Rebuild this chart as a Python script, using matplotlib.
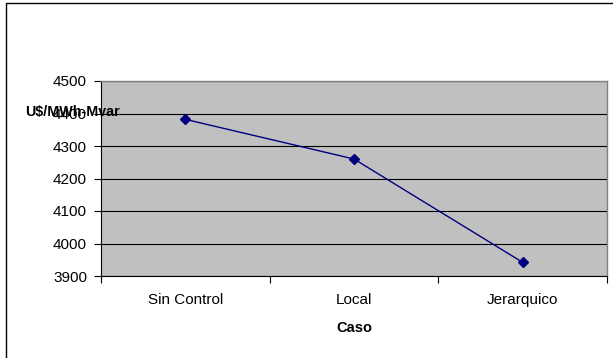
import matplotlib
matplotlib.use("Agg")
import matplotlib.pyplot as plt
from matplotlib.patches import Rectangle

categories = ["Sin Control", "Local", "Jerarquico"]
values = [4382, 4260, 3942]
yticks = [3900, 4000, 4100, 4200, 4300, 4400, 4500]

plt.rcParams['font.family'] = ['Liberation Sans', 'DejaVu Sans']

W, H = 613, 358
fig = plt.figure(figsize=(W/100, H/100), dpi=100)
fig.patch.set_facecolor('white')

# outer chart border (left/top visible)
fig.patches.append(Rectangle((6/W, -0.1), 1.2, (H-3)/H + 0.1, transform=fig.transFigure,
                             fill=False, edgecolor='black', linewidth=1.0))

ax = fig.add_axes([101/W, 1-276/H, (607-101)/W, (276-81)/H])
ax.set_facecolor('#c0c0c0')
x = list(range(len(categories)))
ax.plot(x, values, color='#000080', linewidth=1.0, marker='D', markersize=5,
        markerfacecolor='#000080', markeredgecolor='#000080', zorder=3)

ax.set_ylim(3900, 4500)
ax.set_yticks(yticks)
ax.set_yticklabels([str(v) for v in yticks], fontsize=11)
ax.yaxis.grid(True, color='black', linewidth=0.8)
ax.set_axisbelow(True)

ax.set_xlim(-0.5, len(categories) - 0.5)
ax.set_xticks([i - 0.5 for i in range(len(categories) + 1)])
ax.set_xticklabels([])
ax.set_xticks(x, minor=True)
ax.set_xticklabels(categories, minor=True, fontsize=11)
ax.tick_params(axis='x', which='minor', length=0, pad=12)
ax.tick_params(axis='x', which='major', length=5, width=0.8, direction='out')
ax.tick_params(axis='y', length=5, width=0.8, direction='out', pad=5)

for s in ['top', 'right']:
    ax.spines[s].set_color('#808080')
    ax.spines[s].set_linewidth(1.0)
for s in ['left', 'bottom']:
    ax.spines[s].set_color('black')
    ax.spines[s].set_linewidth(0.8)

ax.set_xlabel("Caso", fontsize=10.5, fontweight='bold', labelpad=10)
fig.text(72/W, 1-112/H, "U$/MWh-Mvar", fontsize=10.3, fontweight='bold',
         ha='center', va='center')

fig.savefig("out.png", dpi=100)
